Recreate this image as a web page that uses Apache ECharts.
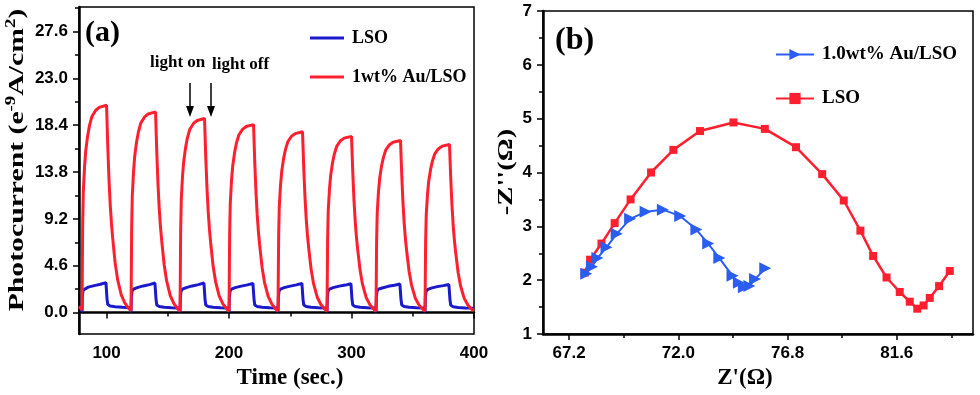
<!DOCTYPE html>
<html>
<head>
<meta charset="utf-8">
<script src="https://cdn.jsdelivr.net/npm/echarts@6/dist/echarts.min.js"></script>
<style>
  html, body { margin: 0; padding: 0; background: #fff; }
  #chart { width: 980px; height: 395px; }
</style>
</head>
<body>
<div id="chart"></div>
<script>
// panel (a): photocurrent response, light switched on every 40 s
const lightOn = [80, 120, 160, 200, 240, 280, 320, 360]
// sample times inside one on/off cycle (s after light on)
const redOffsets = [0, 0.5, 1, 2, 3, 4.5, 6, 8, 11, 14, 20, 20.5, 21, 22, 23, 24, 25, 27, 29, 32, 35, 38]
const redCycles = [
  [0.25, 8.55, 11.80, 14.25, 15.87, 17.30, 18.32, 19.23, 19.84, 20.15, 20.35, 18.32, 16.28, 13.02, 10.58, 8.75, 7.33, 4.88, 3.26, 1.73, 0.92, 0.41],
  [0.20, 8.27, 11.43, 13.79, 15.37, 16.75, 17.73, 18.62, 19.21, 19.50, 19.70, 17.73, 15.76, 12.61, 10.24, 8.47, 7.09, 4.73, 3.15, 1.67, 0.89, 0.39],
  [0.15, 8.00, 11.05, 13.34, 14.86, 16.19, 17.15, 18.00, 18.57, 18.86, 19.05, 17.15, 15.24, 12.19, 9.91, 8.19, 6.86, 4.57, 3.05, 1.62, 0.86, 0.38],
  [0.15, 7.75, 10.70, 12.92, 14.39, 15.68, 16.61, 17.44, 17.99, 18.27, 18.45, 16.61, 14.76, 11.81, 9.59, 7.93, 6.64, 4.43, 2.95, 1.57, 0.83, 0.37],
  [0.15, 7.46, 10.30, 12.43, 13.85, 15.09, 15.98, 16.77, 17.31, 17.57, 17.75, 15.98, 14.20, 11.36, 9.23, 7.63, 6.39, 4.26, 2.84, 1.51, 0.80, 0.36],
  [0.15, 7.27, 10.03, 12.11, 13.49, 14.71, 15.57, 16.35, 16.87, 17.13, 17.30, 15.57, 13.84, 11.07, 9.00, 7.44, 6.23, 4.15, 2.77, 1.47, 0.78, 0.35],
  [0.15, 7.10, 9.80, 11.83, 13.18, 14.37, 15.21, 15.97, 16.48, 16.73, 16.90, 15.21, 13.52, 10.82, 8.79, 7.27, 6.08, 4.06, 2.70, 1.44, 0.76, 0.34],
  [0.15, 6.93, 9.57, 11.55, 12.87, 14.03, 14.85, 15.59, 16.09, 16.34, 16.50, 14.85, 13.20, 10.56, 8.58, 7.10, 5.94, 3.96, 2.64, 1.40, 0.74, 0.33]
]
const redLead = [[77.5, 0.6], [79, 0.45]]
const redTail = [[400, 0.2]]

const blueOffsets = [0, 0.3, 0.8, 2, 5, 10, 15, 19.5, 20, 20.4, 21, 23, 27, 33, 39.5]
const blueCycles = [
  [0.05, 1.6, 2.2, 2.35, 2.5, 2.65, 2.78, 2.95, 3.1, 1.3, 0.8, 0.65, 0.58, 0.52, 0.48],
  [0.03, 1.5, 2.1, 2.3, 2.45, 2.62, 2.75, 2.9, 2.95, 1.3, 0.75, 0.6, 0.52, 0.48, 0.46],
  [0.03, 1.5, 2.1, 2.3, 2.45, 2.62, 2.75, 2.9, 2.95, 1.3, 0.75, 0.6, 0.52, 0.48, 0.46],
  [0.03, 1.5, 2.1, 2.3, 2.45, 2.6, 2.72, 2.86, 2.9, 1.3, 0.75, 0.6, 0.52, 0.48, 0.46],
  [0.03, 1.5, 2.1, 2.3, 2.45, 2.6, 2.72, 2.86, 2.9, 1.3, 0.75, 0.6, 0.52, 0.48, 0.45],
  [0.03, 1.5, 2.1, 2.3, 2.45, 2.6, 2.7, 2.84, 2.88, 1.3, 0.75, 0.6, 0.52, 0.47, 0.45],
  [0.03, 1.5, 2.1, 2.3, 2.42, 2.58, 2.68, 2.8, 2.85, 1.3, 0.75, 0.6, 0.52, 0.47, 0.45],
  [0.03, 1.5, 2.05, 2.25, 2.4, 2.55, 2.65, 2.76, 2.8, 1.25, 0.72, 0.58, 0.5, 0.46, 0.44]
]
const blueLead = [[77.5, 0.6], [79.5, 0.5]]
const blueTail = [[400, 0.42]]

const timeTicks = [100, 200, 300, 400]
const timeMinor = [150, 250, 350]
const currentTicks = [0, 4.6, 9.2, 13.8, 18.4, 23.0, 27.6]
const currentMinor = [2.3, 6.9, 11.5, 16.1, 20.7, 25.3, 29.9]

// panel (b): Nyquist plot, [Z', -Z'']
const lsoImpedance = [
  [67.88, 2.14], [68.12, 2.38], [68.62, 2.68], [69.2, 3.06], [69.9, 3.50], [70.8, 4.00],
  [71.78, 4.42], [72.95, 4.77], [74.42, 4.93], [75.8, 4.81], [77.17, 4.47], [78.32, 3.97],
  [79.27, 3.48], [80.0, 2.92], [80.56, 2.45], [81.15, 2.05], [81.73, 1.78], [82.17, 1.60],
  [82.5, 1.47], [82.78, 1.53], [83.05, 1.67], [83.46, 1.89], [83.93, 2.17]
]
const auImpedance = [
  [67.95, 2.12], [68.2, 2.25], [68.44, 2.41], [68.84, 2.61], [69.29, 2.86], [69.88, 3.14],
  [70.56, 3.27], [71.32, 3.31], [72.08, 3.19], [72.79, 2.94], [73.31, 2.68], [73.8, 2.41],
  [74.38, 2.08], [74.66, 1.95], [74.88, 1.87], [75.12, 1.89], [75.37, 2.02], [75.82, 2.22]
]
const zreTicks = [67.2, 72.0, 76.8, 81.6]
const zreMinor = [69.6, 74.4, 79.2, 84.0]
const zimTicks = [1, 2, 3, 4, 5, 6, 7]
const zimMinor = [1.5, 2.5, 3.5, 4.5, 5.5, 6.5]

const serif = '"Liberation Serif", "Times New Roman", serif'
const sans = '"Liberation Sans", Arial, sans-serif'

function cycleSeries (lead, starts, offsets, cycles, tail) {
  const out = lead.slice()
  starts.forEach((t0, i) => {
    offsets.forEach((o, j) => out.push([t0 + o, cycles[i][j]]))
  })
  return out.concat(tail)
}

function mainAxis (grid, pos, min, max, ticks, digits, extra) {
  return Object.assign({
    type: 'value',
    gridIndex: grid,
    position: pos,
    min: min,
    max: max,
    axisLine: { show: true, lineStyle: { color: '#000', width: 2.5 } },
    axisTick: { show: true, customValues: ticks, length: 6, lineStyle: { color: '#000', width: 1.5 } },
    axisLabel: {
      customValues: ticks,
      margin: 11,
      color: '#000',
      fontFamily: sans,
      fontWeight: 'bold',
      fontSize: 17,
      formatter: v => v.toFixed(digits)
    },
    splitLine: { show: false }
  }, extra)
}

// second axis on the same side, only for the short minor ticks
function minorAxis (grid, pos, min, max, ticks) {
  return {
    type: 'value',
    gridIndex: grid,
    position: pos,
    min: min,
    max: max,
    axisLine: { show: false },
    axisTick: { show: true, customValues: ticks, length: 4, lineStyle: { color: '#000', width: 1.5 } },
    axisLabel: { show: false },
    splitLine: { show: false }
  }
}

const titleFont = { fontFamily: serif, fontWeight: 'bold', fontSize: 23, color: '#000' }
const red = '#ff1f2f'
const navy = '#1a1acc'
const blue = '#2a5ef0'

var myChart = echarts.init(document.getElementById('chart'))
const option = {
  animation: false,
  backgroundColor: '#fff',
  grid: [
    { left: 79, top: 7, width: 395, height: 327, show: true, borderColor: '#000', borderWidth: 1.5 },
    { left: 543, top: 11, width: 430, height: 323, show: true, borderColor: '#000', borderWidth: 1.5 }
  ],
  xAxis: [
    mainAxis(0, 'bottom', 77.5, 400, timeTicks, 0, {
      name: 'Time (sec.)',
      nameLocation: 'middle',
      nameGap: 25,
      nameTextStyle: Object.assign({ padding: [0, 0, 0, 27] }, titleFont)
    }),
    minorAxis(0, 'bottom', 77.5, 400, timeMinor),
    mainAxis(1, 'bottom', 66.05, 84.95, zreTicks, 1, {
      name: "Z'(Ω)",
      nameLocation: 'middle',
      nameGap: 25,
      nameTextStyle: Object.assign({ padding: [0, 26, 0, 0] }, titleFont)
    }),
    minorAxis(1, 'bottom', 66.05, 84.95, zreMinor)
  ],
  yAxis: [
    mainAxis(0, 'left', -2.1, 30.0, currentTicks, 1, {}),
    minorAxis(0, 'left', -2.1, 30.0, currentMinor),
    mainAxis(1, 'left', 1, 7, zimTicks, 0, {}),
    minorAxis(1, 'left', 1, 7, zimMinor)
  ],
  legend: [
    {
      data: ['LSO', '1wt% Au/LSO'],
      orient: 'vertical',
      left: 310,
      top: 29,
      padding: 0,
      itemGap: 21,
      icon: 'rect',
      itemWidth: 34,
      itemHeight: 3,
      textStyle: { fontFamily: serif, fontWeight: 'bold', fontSize: 18, color: '#000', padding: [0, 0, 0, 3] }
    },
    {
      data: ['1.0wt% Au/LSO', 'LSO '],
      orient: 'vertical',
      left: 775,
      top: 45,
      padding: 0,
      itemGap: 25,
      itemWidth: 38,
      itemHeight: 14,
      textStyle: { fontFamily: serif, fontWeight: 'bold', fontSize: 19, color: '#000', padding: [0, 0, 0, 3] }
    }
  ],
  series: [
    {
      name: 'LSO',
      type: 'line',
      xAxisIndex: 0,
      yAxisIndex: 0,
      symbol: 'none',
      lineStyle: { color: navy, width: 3 },
      itemStyle: { color: navy },
      data: cycleSeries(blueLead, lightOn, blueOffsets, blueCycles, blueTail)
    },
    {
      name: '1wt% Au/LSO',
      type: 'line',
      xAxisIndex: 0,
      yAxisIndex: 0,
      symbol: 'none',
      lineStyle: { color: red, width: 3 },
      itemStyle: { color: red },
      data: cycleSeries(redLead, lightOn, redOffsets, redCycles, redTail)
    },
    {
      name: 'LSO ',
      type: 'line',
      xAxisIndex: 2,
      yAxisIndex: 2,
      symbol: 'rect',
      symbolSize: 8,
      lineStyle: { color: red, width: 2.5 },
      itemStyle: { color: red },
      data: lsoImpedance
    },
    {
      name: '1.0wt% Au/LSO',
      type: 'line',
      xAxisIndex: 2,
      yAxisIndex: 2,
      symbol: 'triangle',
      symbolRotate: -90,
      symbolSize: 12,
      lineStyle: { color: blue, width: 2 },
      itemStyle: { color: blue },
      data: auImpedance
    }
  ],
  graphic: [
    // rotated axis titles, stretched along their length like the source figure
    {
      type: 'text', x: 17, y: 160, rotation: Math.PI / 2, scaleX: 1.35,
      style: {
        text: '{a|Photocurrent (e}{s|-9}{a|A/cm}{s|2}{a|)}',
        textAlign: 'center',
        textVerticalAlign: 'middle',
        rich: {
          a: { fontFamily: serif, fontWeight: 'bold', fontSize: 22, lineHeight: 26, fill: '#000' },
          s: { fontFamily: serif, fontWeight: 'bold', fontSize: 14, lineHeight: 14, verticalAlign: 'top', fill: '#000' }
        }
      }
    },
    {
      type: 'text', x: 506, y: 172, rotation: Math.PI / 2, scaleX: 1.3,
      style: { text: "-Z''(Ω)", font: 'bold 22px ' + serif, fill: '#000', textAlign: 'center', textVerticalAlign: 'middle' }
    },
    { type: 'text', x: 85, y: 33, style: { text: '(a)', font: 'bold 30px ' + serif, fill: '#000', textVerticalAlign: 'middle' } },
    { type: 'text', x: 555, y: 41, style: { text: '(b)', font: 'bold 32px ' + serif, fill: '#000', textVerticalAlign: 'middle' } },
    { type: 'text', x: 150, y: 63, style: { text: 'light on', font: 'bold 17px ' + serif, fill: '#000', textVerticalAlign: 'middle' } },
    { type: 'text', x: 212, y: 65, style: { text: 'light off', font: 'bold 17px ' + serif, fill: '#000', textVerticalAlign: 'middle' } },
    { type: 'line', shape: { x1: 190, y1: 83, x2: 190, y2: 108 }, style: { stroke: '#000', lineWidth: 1.5 } },
    { type: 'polygon', shape: { points: [[186, 106], [194, 106], [190, 117]] }, style: { fill: '#000' } },
    { type: 'line', shape: { x1: 211, y1: 83, x2: 211, y2: 108 }, style: { stroke: '#000', lineWidth: 1.5 } },
    { type: 'polygon', shape: { points: [[207, 106], [215, 106], [211, 117]] }, style: { fill: '#000' } }
  ]
}
myChart.setOption(option)
</script>
</body>
</html>
